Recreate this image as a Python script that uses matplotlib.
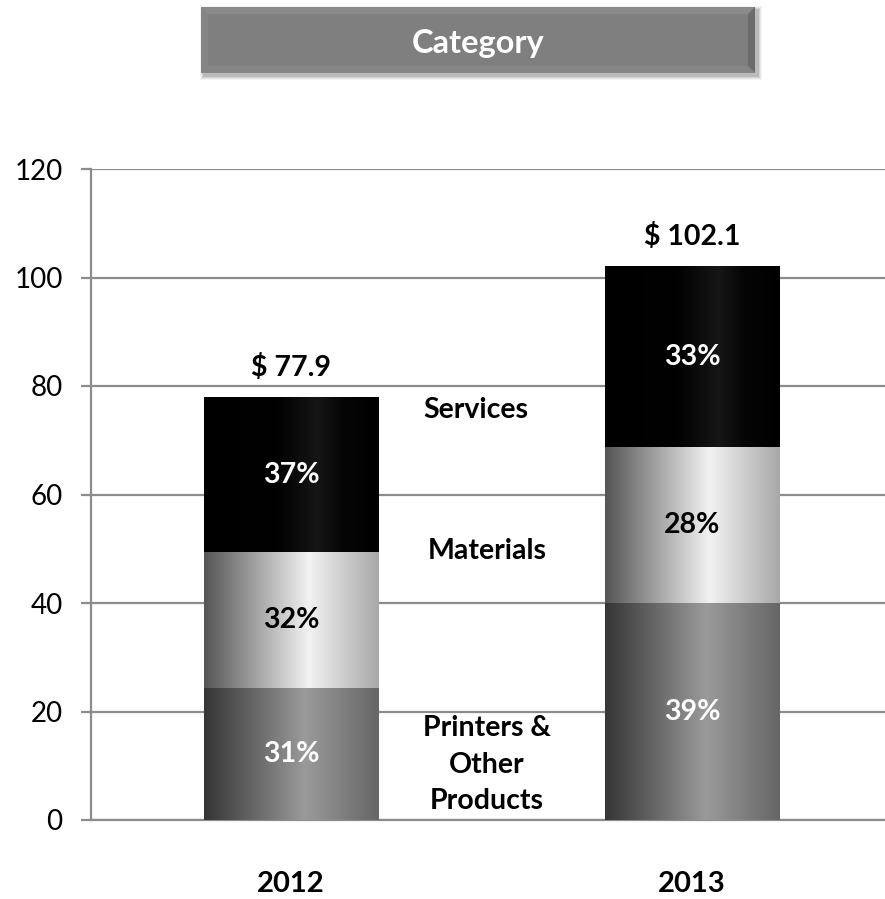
import numpy as np
import matplotlib
matplotlib.use("Agg")
import matplotlib.pyplot as plt
from matplotlib.colors import LinearSegmentedColormap
from matplotlib.patches import Rectangle, Polygon

plt.rcParams['font.family'] = ['Lato', 'DejaVu Sans']

# ---- data ----
years = ["2012", "2013"]
segments = ["Printers &\nOther\nProducts", "Materials", "Services"]
printers = [24.3, 40.0]
materials = [25.1, 28.7]
services = [28.5, 33.4]
pct_printers = ["31%", "39%"]
pct_materials = ["32%", "28%"]
pct_services = ["37%", "33%"]
totals = ["$ 77.9", "$ 102.1"]
yticks = [0, 20, 40, 60, 80, 100, 120]

W, H = 885, 899
fig = plt.figure(figsize=(W / 100, H / 100), dpi=100)
ax = fig.add_axes([90.5 / W, 1 - 820 / H, 802 / W, (820 - 169) / H])

x = np.arange(len(years))
bw = 0.434
grid_col = "#8c8c8c"
LBL = 20.5

ax.set_xlim(-0.5, 1.5)
ax.set_ylim(0, 120)
ax.set_yticks(yticks)
ax.yaxis.grid(True, color=grid_col, linewidth=1.6)
ax.set_axisbelow(True)
for s in ["top", "right"]:
    ax.spines[s].set_visible(False)
ax.spines["left"].set_color(grid_col)
ax.spines["left"].set_linewidth(1.6)
ax.spines["bottom"].set_color(grid_col)
ax.spines["bottom"].set_linewidth(1.6)
ax.tick_params(axis="y", length=7, width=1.6, color=grid_col, labelsize=20, pad=13)
ax.set_xticks([])

cmaps = {
    "p": LinearSegmentedColormap.from_list("p", [(0, "#353535"), (0.58, "#9a9a9a"), (1, "#666666")]),
    "m": LinearSegmentedColormap.from_list("m", [(0, "#555555"), (0.6, "#f2f2f2"), (1, "#a8a8a8")]),
    "s": LinearSegmentedColormap.from_list("s", [(0, "#000000"), (0.42, "#020202"), (0.65, "#161616"), (0.8, "#050505"), (1, "#000000")]),
}
grad = np.linspace(0, 1, 256).reshape(1, -1)

bottom = np.zeros(len(years))
for vals, key, labels, tcol in [(printers, "p", pct_printers, "white"),
                                (materials, "m", pct_materials, "black"),
                                (services, "s", pct_services, "white")]:
    bars = ax.bar(x, vals, bw, bottom=bottom, color="none", edgecolor="none", zorder=3)
    for b, lab in zip(bars, labels):
        x0, y0 = b.get_x(), b.get_y()
        w, h = b.get_width(), b.get_height()
        im = ax.imshow(grad, cmap=cmaps[key], aspect="auto",
                       extent=[x0, x0 + w, y0, y0 + h], zorder=3, interpolation="bicubic")
        im.set_clip_path(b)
        ax.text(x0 + w / 2, y0 + h / 2, lab, ha="center", va="center",
                color=tcol, fontsize=LBL, fontweight="bold", zorder=5)
    bottom = bottom + np.array(vals)

for xi, tot, t in zip(x, bottom, totals):
    ax.text(xi, tot + 3.0, t, ha="center", va="bottom", fontsize=LBL, fontweight="bold")

ax.set_xlim(-0.5, 1.5)
ax.set_ylim(0, 120)

# series labels
ax.text(0.461, 75.6, segments[2], ha="center", va="center", fontsize=LBL, fontweight="bold")
ax.text(0.489, 49.6, segments[1], ha="center", va="center", fontsize=LBL, fontweight="bold")
ax.text(0.489, 10.2, segments[0], ha="center", va="center", fontsize=LBL, fontweight="bold",
        linespacing=1.5)

# category labels
for xi, yr in zip(x, years):
    ax.text(xi, -11.8, yr, ha="center", va="center", fontsize=21, fontweight="bold",
            clip_on=False)

# ---- title box ----
def fx(px):
    return px / W

def fy(py):
    return 1 - py / H

bx0, bx1, by0, by1 = 201, 755, 7, 73
for i, a in enumerate([0.04, 0.06, 0.08, 0.11]):
    off = 4 - i
    fig.patches.append(Rectangle((fx(bx0 - off + 3), fy(by1 + off + 3)),
                                 fx(bx1 - bx0 + 2 * off), (by1 - by0 + 2 * off) / H,
                                 transform=fig.transFigure, facecolor="black",
                                 edgecolor="none", alpha=a, zorder=1))
fig.patches.append(Rectangle((fx(bx0), fy(by1)), fx(bx1 - bx0), (by1 - by0) / H,
                             transform=fig.transFigure, facecolor="#7f7f7f",
                             edgecolor="none", zorder=2))
bev = 7
inner = (bx0 + bev, bx1 - bev, by0 + bev, by1 - bev)
faces = [
    ([(bx0, by0), (bx1, by0), (inner[1], inner[2]), (inner[0], inner[2])], "#8b8b8b"),
    ([(bx1, by0), (bx1, by1), (inner[1], inner[3]), (inner[1], inner[2])], "#6c6c6c"),
    ([(bx0, by1), (bx1, by1), (inner[1], inner[3]), (inner[0], inner[3])], "#858585"),
    ([(bx0, by0), (bx0, by1), (inner[0], inner[3]), (inner[0], inner[2])], "#858585"),
]
for pts, col in faces:
    fig.patches.append(Polygon([(fx(px), fy(py)) for px, py in pts], closed=True,
                               transform=fig.transFigure, facecolor=col,
                               edgecolor="none", zorder=3))
fig.text(fx((bx0 + bx1) / 2), fy(43), "Category", ha="center", va="center",
         color="white", fontsize=23.5, fontweight="bold", zorder=5)

fig.savefig("out.png", dpi=100)
